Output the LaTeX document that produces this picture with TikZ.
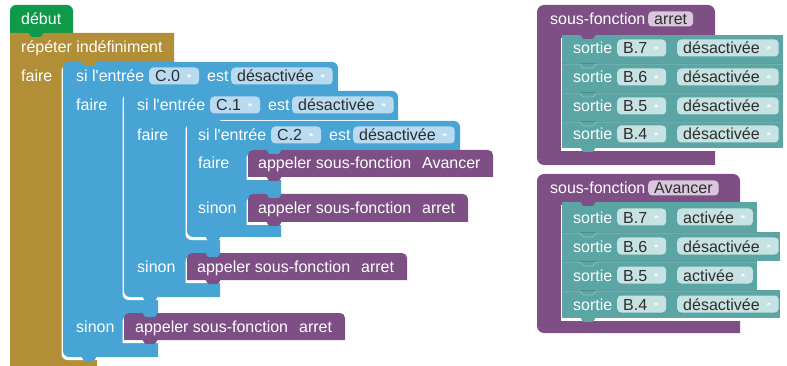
\documentclass[tikz,border=0pt]{standalone}
\usepackage{fontspec}
\setmainfont{Liberation Sans}
\usetikzlibrary{calc,shadows}

\definecolor{debutgreen}{RGB}{14,154,72}
\definecolor{loopgold}{RGB}{178,142,54}
\definecolor{ifblue}{RGB}{73,164,214}
\definecolor{ifbluefld}{RGB}{186,219,239}
\definecolor{procpurple}{RGB}{125,79,133}
\definecolor{procfld}{RGB}{218,199,222}
\definecolor{outteal}{RGB}{91,165,165}
\definecolor{outtealdark}{RGB}{74,140,140}
\definecolor{outteallight}{RGB}{140,195,195}
\definecolor{outtealfld}{RGB}{199,226,226}
\definecolor{fldtext}{RGB}{45,45,45}

\tikzset{
  lbl/.style={anchor=west,inner sep=0pt,text height=12pt,text depth=0pt,
    text=white,font=\fontsize{16}{18}\selectfont},
  fld/.style={anchor=west,inner xsep=6pt,inner ysep=2.5pt,text height=12pt,
    text depth=0pt,rounded corners=4pt,text=fldtext,font=\fontsize{16}{18}\selectfont},
  ddfld/.style={fld,path picture={\fill[white]
    ([xshift=-13pt,yshift=1.5pt]path picture bounding box.east)
    -- ++(6pt,0pt) -- ++(-3pt,-4pt) -- cycle;}},
  hole/.style={drop shadow={shadow xshift=-1.5pt,shadow yshift=-3pt,fill=white,opacity=1}},
}
% small connection tab below a block
\newcommand{\blocktab}[3]{\fill[#1,rounded corners=1pt] (#2+18,#3-1) -- (#2+21,#3+4)
  -- (#2+31,#3+4) -- (#2+34,#3-1) -- cycle;}
% seam between two stacked output blocks
\newcommand{\rowseam}[2]{\draw[outtealdark,line width=0.7pt] (562,#1) -- (#2,#1);
  \draw[outteallight,line width=0.7pt] (563,#1+1) -- (580,#1+1)
  -- (583,#1+5) -- (593,#1+5) -- (596,#1+1) -- (#2-1,#1+1);}
% room for the dropdown arrow
\newcommand{\dd}{\hspace{13pt}\null}

\begin{document}
\begin{tikzpicture}[x=1pt,y=-1pt]
\useasboundingbox (0,0) rectangle (787,366);

% main program
\fill[debutgreen,rounded corners=6] (10,5) rectangle (73,40);
\fill[loopgold] (10,33) -- (174,33) -- (174,62) -- (97,62) -- (97,366) -- (10,366) -- cycle;
\fill[ifblue,hole] (158,357) [rounded corners=6] -- (63,357) -- (63,62) -- (338,62)
  [sharp corners] -- (338,91) -- (158,91) -- cycle;
\fill[ifblue,hole] (220,297) [rounded corners=6] -- (124,297) -- (124,91) -- (398,91)
  [sharp corners] -- (398,120) -- (220,120) -- cycle;
\fill[ifblue,hole] (281,237) [rounded corners=6] -- (187,237) -- (187,121) -- (460,121)
  [sharp corners] -- (460,150) -- (281,150) -- cycle;
\fill[procpurple,hole] (493,177) -- (248,177) [rounded corners=5] -- (248,150) -- (493,150)
  [sharp corners] -- cycle;
\fill[procpurple,hole] (468,222) -- (248,222) [rounded corners=5] -- (248,194) -- (468,194)
  [sharp corners] -- cycle;
\fill[procpurple,hole] (407,280) -- (187,280) [rounded corners=5] -- (187,253) -- (407,253)
  [sharp corners] -- cycle;
\fill[procpurple,hole] (345,340) -- (124,340) [rounded corners=5] -- (124,313) -- (345,313)
  [sharp corners] -- cycle;

% sub-functions
\fill[procpurple] (715,165) [rounded corners=7] -- (537,165) -- (537,5) -- (715,5)
  [sharp corners] -- (715,35) -- (562,35) -- (562,148) -- (715,148) -- cycle;
\fill[outteal,hole] (562,35) rectangle (783,63);
\fill[outteal,hole] (562,63) rectangle (783,92);
\fill[outteal,hole] (562,92) rectangle (783,121);
\fill[outteal,hole] (562,121) rectangle (783,148);

\fill[procpurple] (740,333) [rounded corners=7] -- (537,333) -- (537,174) -- (740,174)
  [sharp corners] -- (740,202) -- (562,202) -- (562,318) -- (740,318) -- cycle;
\fill[outteal,hole] (562,202) rectangle (757,232);
\fill[outteal,hole] (562,232) rectangle (780,261);
\fill[outteal,hole] (562,261) rectangle (757,290);
\fill[outteal,hole] (562,290) rectangle (780,318);

% tabs
\blocktab{debutgreen}{10}{33}
\blocktab{loopgold}{63}{62}
\blocktab{ifblue}{124}{91}
\blocktab{ifblue}{187}{120}
\blocktab{ifblue}{248}{150}
\blocktab{ifblue}{248}{194}
\blocktab{ifblue}{187}{253}
\blocktab{ifblue}{124}{313}
\blocktab{procpurple}{248}{177}
\blocktab{procpurple}{248}{222}
\blocktab{procpurple}{187}{280}
\blocktab{procpurple}{124}{340}
\blocktab{ifblue}{187}{237}
\blocktab{ifblue}{124}{297}
\blocktab{ifblue}{63}{357}
\blocktab{procpurple}{562}{35}
\blocktab{procpurple}{562}{202}
\blocktab{outteal}{562}{148}
\blocktab{outteal}{562}{318}
\rowseam{63}{783}
\rowseam{92}{783}
\rowseam{121}{783}
\rowseam{232}{757}
\rowseam{261}{757}
\rowseam{290}{757}

% texts of the main program
\node[lbl] (debut) at (21,19) {début};
\node[lbl] (repeter) at (21,47) {répéter indéfiniment};
\node[lbl] (faireR) at (21,76) {faire};

\node[lbl] (si0) at (76,76) {si l\textquotesingle entrée};
\node[ddfld,fill=ifbluefld] (in0) at (149,76) {C.0\dd};
\node[lbl] (est0) at (207,76) {est};
\node[ddfld,fill=ifbluefld] (etat0) at (231,76) {désactivée\dd};
\node[lbl] (faire0) at (76,105) {faire};
\node[lbl] (sinon0) at (76,326) {sinon};

\node[lbl] (si1) at (137,105) {si l\textquotesingle entrée};
\node[ddfld,fill=ifbluefld] (in1) at (210,105) {C.1\dd};
\node[lbl] (est1) at (268,105) {est};
\node[ddfld,fill=ifbluefld] (etat1) at (292,105) {désactivée\dd};
\node[lbl] (faire1) at (137,135) {faire};
\node[lbl] (sinon1) at (137,266) {sinon};

\node[lbl] (si2) at (198,135) {si l\textquotesingle entrée};
\node[ddfld,fill=ifbluefld] (in2) at (271,135) {C.2\dd};
\node[lbl] (est2) at (329,135) {est};
\node[ddfld,fill=ifbluefld] (etat2) at (353,135) {désactivée\dd};
\node[lbl] (faire2) at (198,163) {faire};
\node[lbl] (sinon2) at (198,208) {sinon};

\node[lbl] (appelAv) at (258,163) {appeler sous-fonction\hspace{11pt}Avancer};
\node[lbl] (appelAr2) at (258,208) {appeler sous-fonction\hspace{11pt}arret};
\node[lbl] (appelAr1) at (197,266) {appeler sous-fonction\hspace{11pt}arret};
\node[lbl] (appelAr0) at (135,326) {appeler sous-fonction\hspace{11pt}arret};

% texts of sous-fonction arret
\node[lbl] (defAr) at (550,19) {sous-fonction};
\node[fld,fill=procfld,inner ysep=1.5pt] (nomAr) at (648,19) {arret};
\node[lbl] (sAr7) at (573,48) {sortie};
\node[ddfld,fill=outtealfld] (pAr7) at (617,48) {B.7\dd};
\node[ddfld,fill=outtealfld] (eAr7) at (677,48) {désactivée\dd};
\node[lbl] (sAr6) at (573,77) {sortie};
\node[ddfld,fill=outtealfld] (pAr6) at (617,77) {B.6\dd};
\node[ddfld,fill=outtealfld] (eAr6) at (677,77) {désactivée\dd};
\node[lbl] (sAr5) at (573,106) {sortie};
\node[ddfld,fill=outtealfld] (pAr5) at (617,106) {B.5\dd};
\node[ddfld,fill=outtealfld] (eAr5) at (677,106) {désactivée\dd};
\node[lbl] (sAr4) at (573,134) {sortie};
\node[ddfld,fill=outtealfld] (pAr4) at (617,134) {B.4\dd};
\node[ddfld,fill=outtealfld] (eAr4) at (677,134) {désactivée\dd};

% texts of sous-fonction Avancer
\node[lbl] (defAv) at (550,188) {sous-fonction};
\node[fld,fill=procfld,inner ysep=1.5pt] (nomAv) at (648,188) {Avancer};
\node[lbl] (sAv7) at (573,217) {sortie};
\node[ddfld,fill=outtealfld] (pAv7) at (617,217) {B.7\dd};
\node[ddfld,fill=outtealfld] (eAv7) at (677,217) {activée\dd};
\node[lbl] (sAv6) at (573,246) {sortie};
\node[ddfld,fill=outtealfld] (pAv6) at (617,246) {B.6\dd};
\node[ddfld,fill=outtealfld] (eAv6) at (677,246) {désactivée\dd};
\node[lbl] (sAv5) at (573,275) {sortie};
\node[ddfld,fill=outtealfld] (pAv5) at (617,275) {B.5\dd};
\node[ddfld,fill=outtealfld] (eAv5) at (677,275) {activée\dd};
\node[lbl] (sAv4) at (573,304) {sortie};
\node[ddfld,fill=outtealfld] (pAv4) at (617,304) {B.4\dd};
\node[ddfld,fill=outtealfld] (eAv4) at (677,304) {désactivée\dd};
\end{tikzpicture}
\end{document}
